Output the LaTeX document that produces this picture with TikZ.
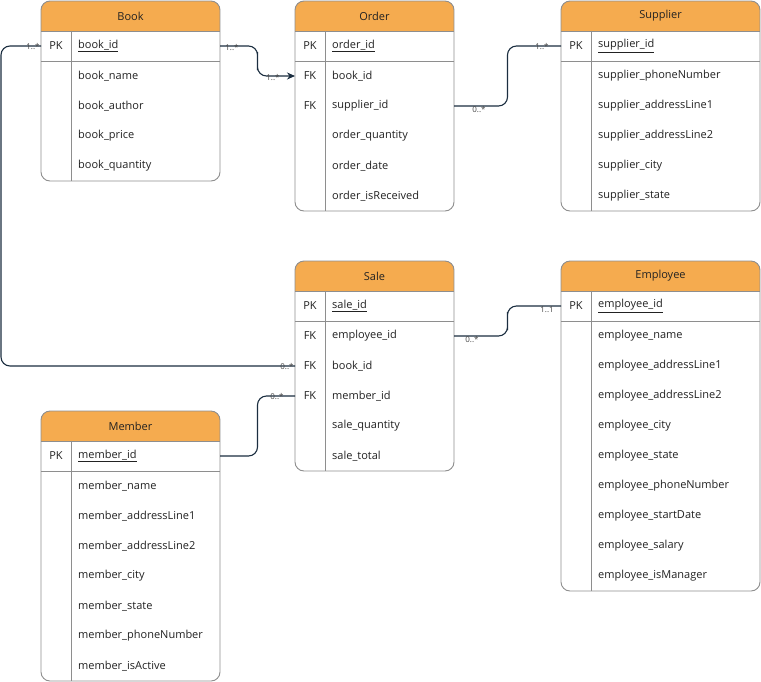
\documentclass[tikz,border=0pt]{standalone}
\usepackage{fontspec}
\setmainfont{Open Sans}
\usetikzlibrary{calc,arrows.meta}

\definecolor{hdr}{HTML}{F5AB4F}
\definecolor{frameclr}{HTML}{8E8E8E}
\definecolor{relclr}{HTML}{1B2E40}
\definecolor{txtclr}{HTML}{222222}
\definecolor{cardclr}{HTML}{444444}

\tikzset{
  frame/.style={draw=frameclr, line width=0.9pt},
  rowbox/.style={anchor=north west, minimum width=#1, minimum height=30pt,
                 inner sep=0pt, outer sep=0pt},
  titletxt/.style={font=\fontsize{11}{13}\selectfont, text=txtclr},
  keytxt/.style={font=\fontsize{11}{13}\selectfont, text=txtclr, inner sep=0pt},
  fldtxt/.style={font=\fontsize{11}{13}\selectfont, text=txtclr, inner sep=0pt, anchor=west},
  rel/.style={draw=relclr, line width=1.1pt, rounded corners=9pt},
  card/.style={font=\fontsize{8}{9}\selectfont, text=cardclr, inner sep=0pt},
}

% #1 id, #2 x, #3 y, #4 width, #5 rows below the header, #6 title
\newcommand\erTable[6]{%
  \begin{scope}
    \clip[rounded corners=9pt] (#2,#3) rectangle ++(#4,{30*(#5+1)});
    \fill[white] (#2,#3) rectangle ++(#4,{30*(#5+1)});
    \fill[hdr] (#2,#3) rectangle ++(#4,30);
  \end{scope}
  \node[titletxt] (#1-0) at ({#2+#4/2},{#3+15}) {#6};
  \foreach \i in {1,...,#5} \node[rowbox=#4] (#1-\i) at (#2,{#3+30*(\i)}) {};
  \draw[frame] (#2,{#3+30}) -- ++(#4,0)
               (#2,{#3+60}) -- ++(#4,0)
               ({#2+30},{#3+30}) -- ({#2+30},{#3+30*(#5+1)});
  \draw[frame, rounded corners=9pt] (#2,#3) rectangle ++(#4,{30*(#5+1)});
}

% #1 id, #2 row, #3 key, #4 field name
\newcommand\erField[4]{%
  \node[keytxt] at ([xshift=15pt]#1-#2.west) {#3};
  \node[fldtxt] at ([xshift=37pt]#1-#2.west) {#4};
}

\begin{document}
\begin{tikzpicture}[x=1pt,y=-1pt]
\useasboundingbox (0,0) rectangle (761,681);
\fill[white] (0,0) rectangle (761,681);

% Book
\erTable{book}{41}{1}{179}{5}{Book}
\erField{book}{1}{PK}{\underline{book\_id}}
\erField{book}{2}{}{book\_name}
\erField{book}{3}{}{book\_author}
\erField{book}{4}{}{book\_price}
\erField{book}{5}{}{book\_quantity}

% Order
\erTable{order}{295}{1}{159}{6}{Order}
\erField{order}{1}{PK}{\underline{order\_id}}
\erField{order}{2}{FK}{book\_id}
\erField{order}{3}{FK}{supplier\_id}
\erField{order}{4}{}{order\_quantity}
\erField{order}{5}{}{order\_date}
\erField{order}{6}{}{order\_isReceived}

% Supplier
\erTable{supplier}{561}{1}{199}{6}{Supplier}
\erField{supplier}{1}{PK}{\underline{supplier\_id}}
\erField{supplier}{2}{}{supplier\_phoneNumber}
\erField{supplier}{3}{}{supplier\_addressLine1}
\erField{supplier}{4}{}{supplier\_addressLine2}
\erField{supplier}{5}{}{supplier\_city}
\erField{supplier}{6}{}{supplier\_state}

% Sale
\erTable{sale}{295}{261}{159}{6}{Sale}
\erField{sale}{1}{PK}{\underline{sale\_id}}
\erField{sale}{2}{FK}{employee\_id}
\erField{sale}{3}{FK}{book\_id}
\erField{sale}{4}{FK}{member\_id}
\erField{sale}{5}{}{sale\_quantity}
\erField{sale}{6}{}{sale\_total}

% Employee
\erTable{employee}{561}{261}{199}{10}{Employee}
\erField{employee}{1}{PK}{\underline{employee\_id}}
\erField{employee}{2}{}{employee\_name}
\erField{employee}{3}{}{employee\_addressLine1}
\erField{employee}{4}{}{employee\_addressLine2}
\erField{employee}{5}{}{employee\_city}
\erField{employee}{6}{}{employee\_state}
\erField{employee}{7}{}{employee\_phoneNumber}
\erField{employee}{8}{}{employee\_startDate}
\erField{employee}{9}{}{employee\_salary}
\erField{employee}{10}{}{employee\_isManager}

% Member
\erTable{member}{41}{411}{179}{8}{Member}
\erField{member}{1}{PK}{\underline{member\_id}}
\erField{member}{2}{}{member\_name}
\erField{member}{3}{}{member\_addressLine1}
\erField{member}{4}{}{member\_addressLine2}
\erField{member}{5}{}{member\_city}
\erField{member}{6}{}{member\_state}
\erField{member}{7}{}{member\_phoneNumber}
\erField{member}{8}{}{member\_isActive}

% Relationships
\draw[rel, -{Stealth[length=8pt,width=7pt]}] (book-1.east)
  -| ($(book-1.east)!0.5!(order-2.west)$) |- (order-2.west);
\node[card] at ([xshift=12pt,yshift=-2pt]book-1.east) {1..*};
\node[card] at ([xshift=-22pt,yshift=-2pt]order-2.west) {1..*};

\draw[rel] (order-3.east)
  -| ($(order-3.east)!0.5!(supplier-1.west)$) |- (supplier-1.west);
\node[card] at ([xshift=25pt,yshift=-4pt]order-3.east) {0..*};
\node[card] at ([xshift=-19pt,yshift=-1pt]supplier-1.west) {1..*};

\draw[rel] (book-1.west) -- ++(-40,0) |- (sale-3.west);
\node[card] at ([xshift=-8pt,yshift=-1pt]book-1.west) {1..*};
\node[card] at ([xshift=-8pt,yshift=-1pt]sale-3.west) {0..*};

\draw[rel] (sale-2.east)
  -| ($(sale-2.east)!0.5!(employee-1.west)$) |- (employee-1.west);
\node[card] at ([xshift=18pt,yshift=-4pt]sale-2.east) {0..*};
\node[card] at ([xshift=-14pt,yshift=-4pt]employee-1.west) {1..1};

\draw[rel] (member-1.east)
  -| ($(member-1.east)!0.5!(sale-4.west)$) |- (sale-4.west);
\node[card] at ([xshift=-18pt,yshift=-1pt]sale-4.west) {0..*};

\end{tikzpicture}
\end{document}
